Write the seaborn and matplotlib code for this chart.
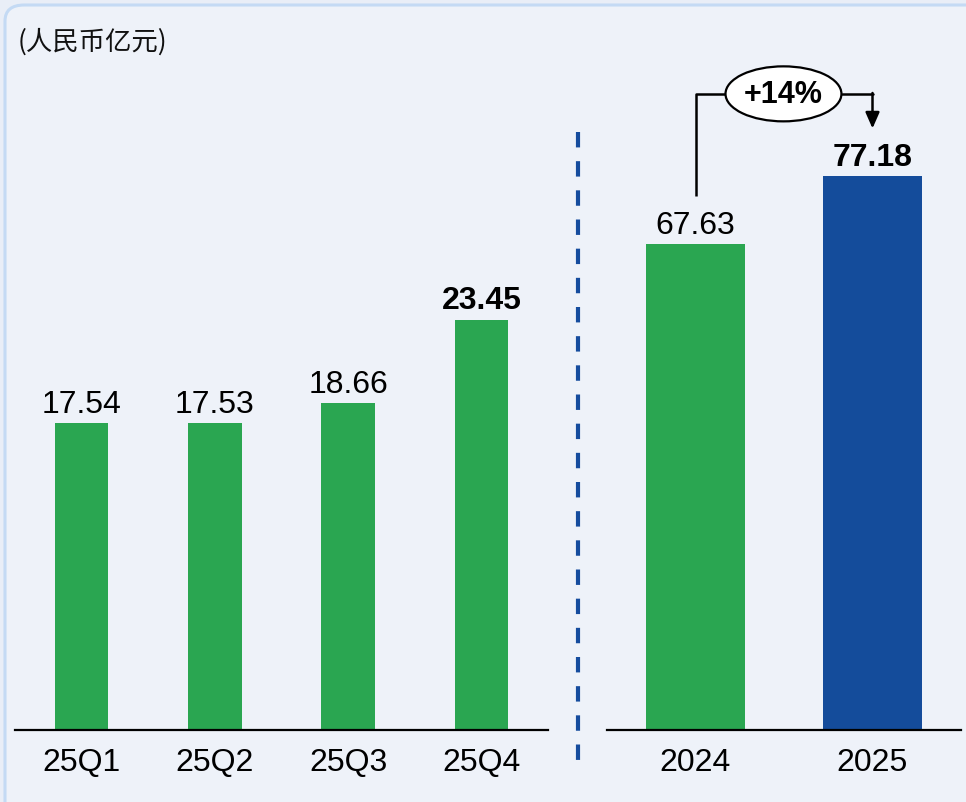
import numpy as np
import pandas as pd
import seaborn as sns
import matplotlib.pyplot as plt
from matplotlib.lines import Line2D
from matplotlib.patches import Ellipse, FancyBboxPatch

# data
quarters = ["25Q1", "25Q2", "25Q3", "25Q4"]
quarter_values = [17.54, 17.53, 18.66, 23.45]
years = ["2024", "2025"]
year_values = [67.63, 77.18]
growth_label = "+14%"
unit_label = "(人民币亿元)"

green = "#2AA651"
blue = "#144C9B"

sns.set_theme(style="white")
plt.rcParams["font.family"] = ["Liberation Sans", "Noto Sans CJK SC", "DejaVu Sans"]
plt.rcParams["text.color"] = "black"

W, H = 966, 803
fig = plt.figure(figsize=(W / 100, H / 100), dpi=100, facecolor="#E9EEF7")

# rounded panel frame, kept behind the axes
panel = FancyBboxPatch((5 / W, -0.05), 1.2, 1.05 - 6 / H,
                       boxstyle="round,pad=0,rounding_size=0.02",
                       transform=fig.transFigure, facecolor="#EEF2F9",
                       edgecolor="#C4DAF4", linewidth=2.2, zorder=-5)
fig.patches.append(panel)

base_y = 1 - 731 / H
ax_h = 691 / H
ax1 = fig.add_axes([15 / W, base_y, 533 / W, ax_h])
ax2 = fig.add_axes([607 / W, base_y, 354 / W, ax_h])

df_q = pd.DataFrame({"period": quarters, "value": quarter_values})
df_y = pd.DataFrame({"period": years, "value": year_values})

sns.barplot(data=df_q, x="period", y="value", hue="period", saturation=1,
            palette=[green] * 4, width=0.40, linewidth=0, legend=False, ax=ax1)
sns.barplot(data=df_y, x="period", y="value", hue="period", saturation=1,
            palette=[green, blue], width=0.56, linewidth=0, legend=False, ax=ax2)

ax1.set_ylim(0, 691 / 17.5)
ax2.set_ylim(0, 691 / 7.18)
ax1.set_xlim(-0.5, 3.5)
ax2.set_xlim(-0.5, 1.5)

for ax in (ax1, ax2):
    ax.patch.set_visible(False)
    for s in ["top", "right", "left"]:
        ax.spines[s].set_visible(False)
    ax.spines["bottom"].set_color("black")
    ax.spines["bottom"].set_linewidth(1.6)
    ax.set_yticks([])
    ax.set_xlabel("")
    ax.set_ylabel("")
    ax.tick_params(axis="x", length=0, pad=12, labelsize=23, colors="black")

# value labels
for i, v in enumerate(quarter_values):
    bold = i == len(quarter_values) - 1
    ax1.annotate(f"{v:.2f}", (i, v), xytext=(0, 3), textcoords="offset points",
                 ha="center", va="bottom", fontsize=23, color="black",
                 fontweight="bold" if bold else "normal")
for i, v in enumerate(year_values):
    bold = i == len(year_values) - 1
    ax2.annotate(f"{v:.2f}", (i, v), xytext=(0, 3), textcoords="offset points",
                 ha="center", va="bottom", fontsize=23, color="black",
                 fontweight="bold" if bold else "normal")

# growth bracket
y_top = 88.6
ax2.plot([0, 0, 0.17], [year_values[0] + 6.8, y_top, y_top], color="black", lw=1.8,
         clip_on=False, solid_capstyle="butt")
ax2.plot([0.83, 1.0], [y_top, y_top], color="black", lw=1.8, clip_on=False)
ax2.annotate("", xy=(1.0, year_values[1] + 6.6), xytext=(1.0, y_top + 0.12),
             arrowprops=dict(arrowstyle="-|>,head_length=0.8,head_width=0.35",
                             color="black", lw=1.8, shrinkA=0, shrinkB=0),
             annotation_clip=False)
ell = Ellipse((0.497, y_top), 0.655, 7.66, facecolor="white", edgecolor="black",
              lw=1.6, clip_on=False, zorder=5)
ax2.add_patch(ell)
ax2.text(0.497, y_top, growth_label, ha="center", va="center", fontsize=22,
         fontweight="bold", zorder=6, clip_on=False, color="black")

# divider
fig.add_artist(Line2D([578 / W, 578 / W], [1 - 133 / H, 1 - 762 / H],
                      transform=fig.transFigure, color="#154C9E", lw=3.0,
                      linestyle=(0, (3.7, 3.3))))

fig.text(18 / W, 1 - 42 / H, unit_label, ha="left", va="center", fontsize=19,
         style="italic", family=["Noto Sans CJK SC", "DejaVu Sans"], color="#111111")

fig.savefig("out.png", dpi=100, facecolor=fig.get_facecolor())
